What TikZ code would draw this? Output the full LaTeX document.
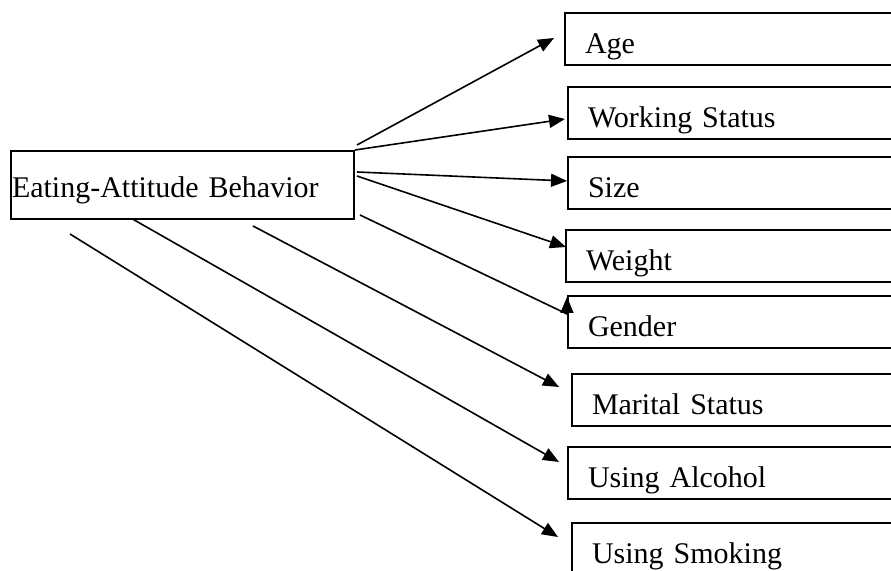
\documentclass[tikz,border=0pt]{standalone}
\usepackage{fontspec}
\setmainfont{Liberation Serif}
\usetikzlibrary{arrows.meta}

\tikzset{
  mainbox/.style={draw, line width=1pt, anchor=north west, align=left,
    inner xsep=0.5pt, inner ysep=0pt, text width=170.5pt,
    text height=23.5pt, text depth=10.5pt, font=\fontsize{15pt}{18pt}\selectfont},
  itembox/.style={draw, line width=1pt, anchor=north west, align=left,
    inner xsep=10pt, inner ysep=0pt, text width=150pt,
    text height=20.5pt, text depth=5.5pt, font=\fontsize{15pt}{18pt}\selectfont},
  link/.style={line width=0.8pt, -{Triangle[length=8pt,width=6.5pt]}}
}

\begin{document}
\begin{tikzpicture}[x=0.5pt, y=-0.5pt]
\def\picw{891};
\def\pich{571};
\useasboundingbox (0,0) rectangle (\picw,\pich);
\clip (0,0) rectangle (\picw,\pich);

\node[mainbox] (eab) at (10,150) {Eating-Attitude Behavior};

\node[itembox] (age) at (564,12) {Age};
\node[itembox] (work) at (567,86) {Working Status};
\node[itembox] (size) at (567,156) {Size};
\node[itembox] (weight) at (565,229) {Weight};
\node[itembox] (gender) at (567,295) {Gender};
\node[itembox] (marital) at (571,373) {Marital Status};
\node[itembox] (alcohol) at (567,446) {Using Alcohol};
\node[itembox] (smoking) at (571,522) {Using Smoking};

\draw[link] ([shift={(2,-5)}]eab.north east) -- ([shift={(-10,-1)}]age.west);
\draw[link] (eab.north east) -- ([shift={(-2,6)}]work.west);
\draw[link] ([shift={(2,22)}]eab.north east) -- ([shift={(0,-2)}]size.west);
\draw[link] ([shift={(2,26)}]eab.north east) -- ([shift={(1,-9)}]weight.west);
\draw[link] ([shift={(5,-5)}]eab.south east) -- ([shift={(0,19)}]gender.north west) -- ([shift={(0,2)}]gender.north west);

\draw[link] ([shift={(70.5,6)}]eab.south) -- ([shift={(-12,-13)}]marital.west);
\draw[link] ([shift={(-50,-1)}]eab.south) -- ([shift={(-8,-11)}]alcohol.west);
\draw[link] ([shift={(60,14)}]eab.south west) -- ([shift={(-13,15)}]smoking.north west);

\end{tikzpicture}
\end{document}
